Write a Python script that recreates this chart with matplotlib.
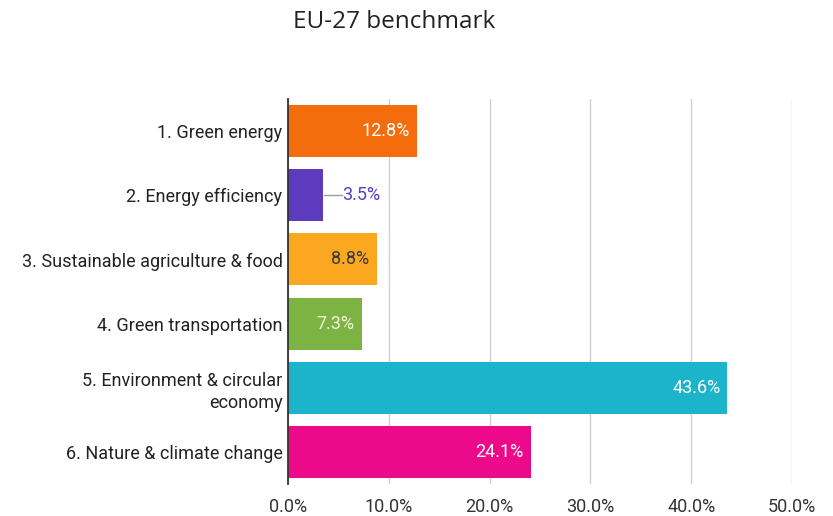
import matplotlib.pyplot as plt
import numpy as np

plt.rcParams['font.family'] = ['Roboto', 'DejaVu Sans']

# shares per category, top to bottom
categories = ['1. Green energy', '2. Energy efficiency',
              '3. Sustainable agriculture & food', '4. Green transportation',
              '5. Environment & circular\neconomy', '6. Nature & climate change']
shares = [12.8, 3.5, 8.8, 7.3, 43.6, 24.1]
bar_colors = ['#f46d0d', '#5c3bbf', '#fba820', '#7cb342', '#1cb4ca', '#ec0a8b']
label_colors = ['white', '#5c3bbf', '#3a3a3a', '#f0f5dc', 'white', 'white']
xticks = [0, 10, 20, 30, 40, 50]

fig = plt.figure(figsize=(8.33, 5.16), dpi=100)
ax = fig.add_axes([0.3457, 0.062, 0.6051, 0.746])

y = np.arange(len(categories))
ax.barh(y, shares, height=0.81, color=bar_colors, zorder=3)
ax.set_ylim(len(categories) - 0.5, -0.5)
ax.set_xlim(0, 50)

# value labels: inside the bar when it fits, otherwise outside with a leader
for yi, v, c in zip(y, shares, label_colors):
    if v < 5:
        ax.plot([v + 0.05, v + 1.9], [yi, yi], color='#9e9e9e', lw=1, zorder=4)
        ax.text(v + 1.9, yi, f'{v:.1f}%', va='center', ha='left',
                color=c, fontsize=13)
    else:
        ax.text(v - 0.7, yi, f'{v:.1f}%', va='center', ha='right',
                color=c, fontsize=13, zorder=5)

ax.set_xticks(xticks)
ax.set_xticklabels([f'{t:.1f}%' for t in xticks], fontsize=13, color='#333333')
ax.set_yticks(y)
ax.set_yticklabels(categories, fontsize=13, color='#222222', linespacing=1.3)
ax.tick_params(length=0, pad=4)
ax.tick_params(axis='x', pad=10)

ax.grid(axis='x', color='#d0d0d0', lw=1, zorder=0)
for s in ['top', 'right', 'bottom']:
    ax.spines[s].set_visible(False)
ax.spines['left'].set_color('#333333')
ax.spines['left'].set_linewidth(1.3)
ax.spines['left'].set_zorder(4)

fig.text(0.473, 0.957, 'EU-27 benchmark', ha='center', va='center',
         fontsize=17.5, family=['Open Sans', 'DejaVu Sans'], color='#222222')

fig.savefig('out.png', dpi=100, facecolor='white')
